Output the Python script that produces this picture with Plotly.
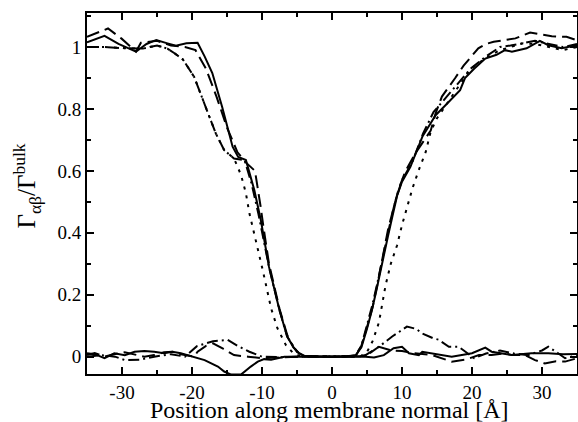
import plotly.graph_objects as go

# ---------------- data ----------------
# High profiles
hi_solid_x = [-35, -32.5, -30.5, -28, -26.5, -25.1, -23.5, -22.3, -20.8, -19.2, -18.2, -17.1, -15.7, -14.2, -13.4, -12.3,
              -11.1, -10.2, -9.0, -7.5, -6.4, -5.5, -4.7, -4, -2, 0, 2, 3.4, 4.2, 5.0, 5.7, 6.4, 7.2, 8.0, 8.6, 9.3, 10.0,
              11.2, 12.9, 14.8, 16.0, 18.3, 19.0, 20.3, 21.9, 23.5, 24.7, 25.7, 27.8, 29.7, 30.9, 32.8, 35]
hi_solid_y = [1.015, 1.036, 1.01, 0.985, 1.01, 1.023, 1.012, 1.004, 1.012, 1.014, 0.97, 0.916, 0.807, 0.678, 0.645, 0.635,
              0.538, 0.445, 0.29, 0.15, 0.065, 0.03, 0.011, 0.003, 0, 0, 0, 0.005, 0.03, 0.09, 0.15, 0.22, 0.31, 0.39, 0.45, 0.52, 0.565,
              0.613, 0.71, 0.78, 0.807, 0.861, 0.9, 0.93, 0.963, 0.975, 0.99, 0.985, 0.996, 1.02, 1.006, 0.996, 1.006]

hi_dash_x = [-35, -32, -30.1, -28, -27.3, -25, -23, -21, -19.5, -18, -16.5, -15, -13.5, -12.2, -11, -10.7, -10.2, -9.8, -9,
             -7.5, -6.4, -5.5, -4.7, -4, 0, 3.3, 4.2, 5.0, 5.8, 6.5, 7.3, 8.0, 8.8, 9.5, 10.5, 12, 13.5, 14.1, 14.8, 15.7,
             17.6, 18.8, 20.9, 22, 23.1, 26.2, 28.3, 31.4, 33.5, 35]
hi_dash_y = [1.033, 1.06, 1.028, 0.985, 1.014, 1.02, 1.005, 1.0, 0.99, 0.93, 0.84, 0.74, 0.66, 0.625, 0.6, 0.56, 0.485, 0.42, 0.3,
             0.155, 0.07, 0.03, 0.01, 0.003, 0, 0.003, 0.035, 0.095, 0.16, 0.235, 0.33, 0.41, 0.48, 0.54, 0.6, 0.66, 0.71, 0.73, 0.786, 0.84,
             0.9, 0.94, 0.996, 1.01, 1.017, 1.028, 1.047, 1.035, 1.033, 1.022]

hi_dashdot_x = [-35, -32.5, -29.4, -27, -25, -23.5, -22.5, -21.3, -19.7, -18, -16.6, -15.4, -14, -12.5, -11.5, -10.5, -9, -7.5,
                -6.4, -5, -4, 0, 3.4, 4.2, 5.0, 5.8, 6.5, 7.3, 8.2, 9, 10, 11.5, 13, 14.5, 16, 18, 19.8, 22, 24, 25.5, 27.3,
                29, 31, 33, 35]
hi_dashdot_y = [1.0, 1.0, 0.996, 0.995, 1.005, 0.995, 0.98, 0.96, 0.904, 0.807, 0.721, 0.667, 0.64, 0.635, 0.56, 0.46, 0.29, 0.15,
                0.065, 0.015, 0.002, 0, 0.003, 0.035, 0.1, 0.17, 0.24, 0.33, 0.42, 0.5, 0.57, 0.63, 0.72, 0.79, 0.83, 0.88, 0.93, 0.97,
                1.0, 1.005, 1.012, 1.02, 1.01, 1.0, 1.01]

hi_dot_x = [-35, -32.5, -29.4, -27, -25, -23.5, -22.5, -21.3, -19.7, -18, -16.6, -15.4, -14, -13, -12.3, -11.8, -11.1, -9.9,
            -8.7, -7.8, -6.6, -5.5, -4.5, 0, 4, 5, 5.8, 6.7, 7.2, 7.65, 8.4, 9.3, 10.0, 10.7, 11.5, 12.4, 13.4, 14.1, 15, 16.5,
            18, 19.8, 22, 24, 27.3, 29, 31, 33, 35]
hi_dot_y = [1.0, 1.0, 0.996, 0.995, 1.005, 0.995, 0.98, 0.96, 0.904, 0.807, 0.721, 0.667, 0.64, 0.587, 0.528, 0.463, 0.398, 0.28,
            0.156, 0.092, 0.038, 0.01, 0.002, 0, 0, 0.015, 0.05, 0.11, 0.17, 0.23, 0.30, 0.36, 0.425, 0.484, 0.544, 0.603, 0.662, 0.727,
            0.77, 0.82, 0.87, 0.93, 0.965, 0.99, 1.012, 1.01, 1.0, 0.99, 1.0]

# Low profiles
lo_solid_x = [-35, -33.9, -32.5, -31.1, -29.6, -28.2, -26.8, -25.4, -24.0, -22.8, -21.6, -19.7, -18.2, -16.3, -15.4, -14.4,
              -13.0, -11.6, -10.6, -9.7, -8.7, -6.8, -5, 0, 3, 4.8, 6, 7.4, 8.8, 10.0, 11.0, 12.4, 12.9, 14.3, 17.1, 20,
              21.9, 22.8, 25.7, 28.5, 30.9, 33, 35]
lo_solid_y = [0.011, 0.008, -0.005, 0.011, 0.005, 0.016, 0.018, 0.016, 0.011, 0.016, 0.011, 0.0, -0.011, -0.032, -0.048, -0.058,
              -0.058, -0.032, -0.016, -0.008, -0.01, 0.0, 0.0, 0, 0, 0.0, -0.003, 0.005, 0.027, 0.032, 0.011, 0.005, 0.016, 0.011, 0.0, 0.011,
              0.029, 0.016, 0.005, 0.011, 0.011, 0.008, 0.009]

lo_dash_x = [-35, -33.9, -32.5, -31.1, -29.6, -28.2, -26.8, -25.4, -24.0, -22.8, -21.6, -19.7, -19.2, -18, -17, -15.5, -14,
             -12, -10, -7, -5, 0, 3.5, 4.8, 6.7, 8.5, 10, 11.5, 14.3, 17.1, 19, 21, 22.8, 24.7, 25.7, 27.6, 29, 30.4, 32,
             33.3, 35]
lo_dash_y = [0.005, 0.012, 0.0, 0.008, 0.014, 0.008, 0.0, 0.005, 0.014, 0.016, 0.008, 0.0, 0.016, 0.035, 0.043, 0.025, 0.005,
             0.0, -0.005, -0.002, 0.0, 0, 0, 0.005, 0.032, 0.02, 0.018, 0.012, 0.005, -0.016, -0.01, 0.005, 0.005, 0.011, 0.005, 0.005,
             -0.011, -0.022, -0.015, -0.016, -0.005]

lo_dashdot_x = [-35, -33, -31, -29.6, -27.5, -25.4, -23, -21, -19.3, -17, -14.9, -13.5, -11.8, -10, -7, -5, 0, 3.5, 4.8,
                6.7, 8.6, 10.7, 12.0, 12.9, 14.5, 15.2, 16.7, 18.1, 19.5, 20.3, 22, 24, 26, 28, 30, 30.9, 32.3, 33.3, 35]
lo_dashdot_y = [0.0, 0.005, 0.0, -0.011, -0.01, 0.0, 0.008, 0.0, 0.034, 0.05, 0.054, 0.035, 0.016, 0.0, -0.002, 0.0, 0, 0,
                0.002, 0.032, 0.065, 0.097, 0.09, 0.075, 0.059, 0.055, 0.032, 0.032, 0.01, -0.005, 0.01, 0.02, 0.01, 0.005,
                0.02, 0.032, 0.011, -0.005, 0.005]

x_tick_vals = [-30, -20, -10, 0, 10, 20, 30]
x_tick_text = ["-30", "-20", "-10", "0", "10", "20", "30"]
y_tick_vals = [0, 0.2, 0.4, 0.6, 0.8, 1.0]
y_tick_text = ["0", "0.2", "0.4", "0.6", "0.8", "1"]
x_title = "Position along membrane normal [Å]"
y_title = "Γ<sub>αβ</sub>/Γ<sup>bulk</sup>"

# ---------------- figure ----------------
series = [
    (hi_solid_x, hi_solid_y, "solid"),
    (hi_dash_x, hi_dash_y, "13px,6px"),
    (hi_dashdot_x, hi_dashdot_y, "11px,4px,2px,4px"),
    (hi_dot_x, hi_dot_y, "3px,6px"),
    (lo_solid_x, lo_solid_y, "solid"),
    (lo_dash_x, lo_dash_y, "13px,6px"),
    (lo_dashdot_x, lo_dashdot_y, "11px,4px,2px,4px"),
]

fig = go.Figure()
for xs, ys, dash in series:
    fig.add_trace(go.Scatter(x=xs, y=ys, mode="lines",
                             line=dict(color="black", width=2, dash=dash),
                             showlegend=False, hoverinfo="skip"))

font_family = "Liberation Serif"
axis_common = dict(
    showline=True, linecolor="black", linewidth=2, mirror="allticks",
    ticks="inside", ticklen=7, tickwidth=2, tickcolor="black",
    showgrid=False, zeroline=False, automargin=False,
    tickfont=dict(family=font_family, size=19, color="black"),
)

fig.update_xaxes(range=[-35, 35], tickmode="array", tickvals=x_tick_vals, ticktext=x_tick_text,
                 minor=dict(dtick=5, tick0=0, ticks="inside", ticklen=4, tickwidth=2, tickcolor="black"),
                 **axis_common)
fig.update_yaxes(range=[-0.056, 1.11], tickmode="array", tickvals=y_tick_vals, ticktext=y_tick_text,
                 minor=dict(dtick=0.1, tick0=0, ticks="inside", ticklen=4, tickwidth=2, tickcolor="black"),
                 **axis_common)

fig.add_annotation(text=x_title, xref="paper", yref="paper", x=0.494, y=-0.1,
                   showarrow=False, xanchor="center", yanchor="middle",
                   font=dict(family=font_family, size=24, color="black"))
fig.add_annotation(text=y_title, xref="paper", yref="paper", x=-0.122, y=0.52,
                   showarrow=False, xanchor="center", yanchor="middle", textangle=-90,
                   font=dict(family=font_family, size=25, color="black"))

fig.update_layout(
    width=578, height=422,
    margin=dict(l=87, r=1, t=13, b=48),
    plot_bgcolor="white", paper_bgcolor="white",
    font=dict(family=font_family, color="black"),
)

fig.write_html("out.html", config={"displayModeBar": False},
               post_script="document.body.style.margin='0';document.body.style.overflow='hidden';")
